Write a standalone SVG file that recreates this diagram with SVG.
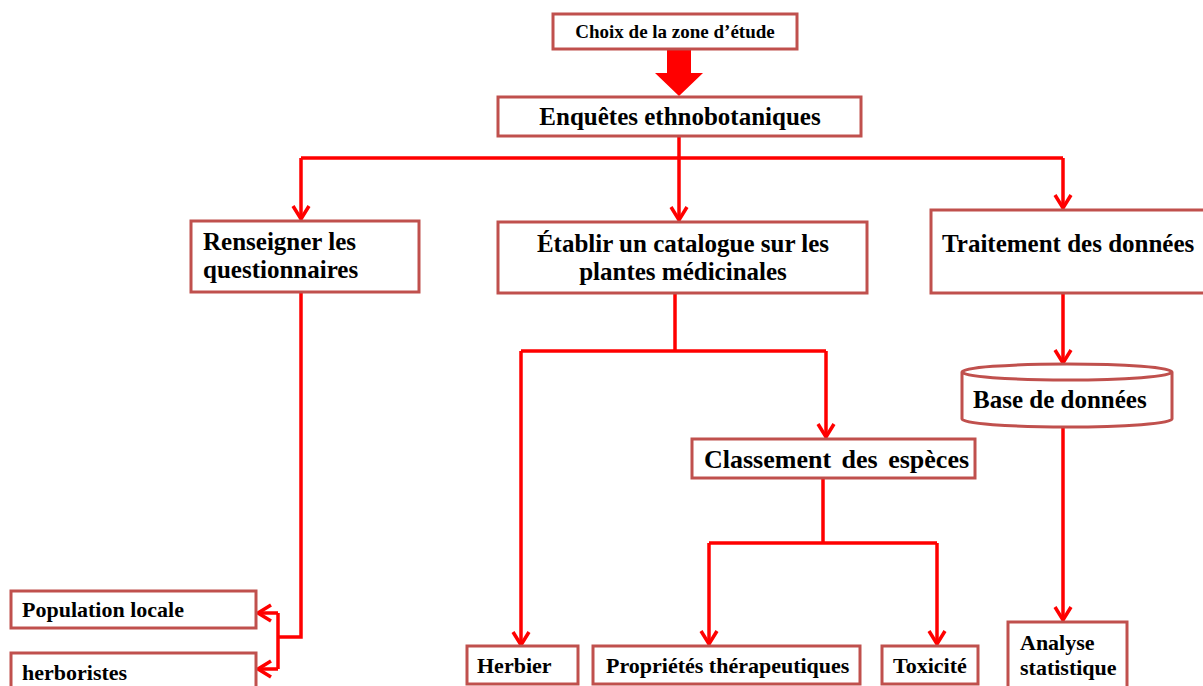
<svg xmlns="http://www.w3.org/2000/svg" width="1203" height="686" viewBox="0 0 1203 686">
<style>
.box{fill:#fff;stroke:#C0504D;stroke-width:3}
.t{font-family:"Liberation Serif","Times New Roman",serif;font-weight:bold;fill:#000;font-size:25px}
.s{font-size:22px}
.c{fill:none;stroke:#FF0000;stroke-width:3.5}
</style>
<defs>
<marker id="ah" viewBox="0 0 20 20" refX="17" refY="10" markerWidth="20" markerHeight="20" markerUnits="userSpaceOnUse" orient="auto">
<polyline points="4,2 17,10 4,18" fill="none" stroke="#FF0000" stroke-width="3.5"/>
</marker>
</defs>
<rect width="1203" height="686" fill="#fff"/>
<g id="connectors">
<path d="M667,49 V73 H655 L679,96 L703,73 H691 V49 Z" fill="#FF0000"/>
<path class="c" d="M679,136 V158"/>
<path class="c" d="M301,158 H1063"/>
<path class="c" d="M301,158 V219" marker-end="url(#ah)"/>
<path class="c" d="M679,158 V220" marker-end="url(#ah)"/>
<path class="c" d="M1063,158 V208" marker-end="url(#ah)"/>
<path class="c" d="M301,293 V637 H278"/>
<path class="c" d="M278,613 V669"/>
<path class="c" d="M278,613 H258" marker-end="url(#ah)"/>
<path class="c" d="M278,669 H258" marker-end="url(#ah)"/>
<path class="c" d="M675,293 V351"/>
<path class="c" d="M521,351 H826"/>
<path class="c" d="M521,351 V645" marker-end="url(#ah)"/>
<path class="c" d="M826,351 V437" marker-end="url(#ah)"/>
<path class="c" d="M823,478 V543"/>
<path class="c" d="M709,543 H937"/>
<path class="c" d="M709,543 V644" marker-end="url(#ah)"/>
<path class="c" d="M937,543 V644" marker-end="url(#ah)"/>
<path class="c" d="M1063,293 V363" marker-end="url(#ah)"/>
<path class="c" d="M1063,427 V620" marker-end="url(#ah)"/>
</g>
<g id="choix"><rect class="box" x="553" y="14" width="244" height="35"/><text class="t" x="675" y="38" text-anchor="middle" style="font-size:19px">Choix de la zone d’étude</text></g>
<g id="enquetes"><rect class="box" x="498" y="97" width="363" height="39"/><text class="t" x="680" y="125" text-anchor="middle">Enquêtes ethnobotaniques</text></g>
<g id="renseigner"><rect class="box" x="191" y="221" width="228" height="71"/><text class="t" x="203" y="250">Renseigner les</text><text class="t" x="203" y="278">questionnaires</text></g>
<g id="etablir"><rect class="box" x="498" y="222" width="369" height="71"/><text class="t" x="683" y="252" text-anchor="middle">Établir un catalogue sur les</text><text class="t" x="683" y="280" text-anchor="middle">plantes médicinales</text></g>
<g id="traitement"><rect class="box" x="931" y="210" width="274" height="83"/><text class="t" x="942" y="252">Traitement des données</text></g>
<g id="base"><path class="box" d="M962,372 V419 A105,8 0 0 0 1172,419 V372 A105,8 0 0 0 962,372 A105,8 0 0 0 1172,372"/><text class="t" x="973" y="408">Base de données</text></g>
<g id="population"><rect class="box" x="11" y="591" width="245" height="37"/><text class="t s" x="22" y="617">Population locale</text></g>
<g id="herboristes"><rect class="box" x="11" y="653" width="245" height="40"/><text class="t s" x="22" y="680">herboristes</text></g>
<g id="classement"><rect class="box" x="692" y="439" width="283" height="39"/><text class="t" x="704" y="468" word-spacing="4" style="font-size:26px">Classement des espèces</text></g>
<g id="herbier"><rect class="box" x="467" y="646" width="111" height="38"/><text class="t s" x="477" y="673">Herbier</text></g>
<g id="proprietes"><rect class="box" x="593" y="646" width="267" height="38"/><text class="t s" x="606" y="673">Propriétés thérapeutiques</text></g>
<g id="toxicite"><rect class="box" x="882" y="646" width="96" height="38"/><text class="t s" x="893" y="673">Toxicité</text></g>
<g id="analyse"><rect class="box" x="1008" y="622" width="119" height="70"/><text class="t s" x="1020" y="650">Analyse</text><text class="t s" x="1020" y="675">statistique</text></g>
</svg>
